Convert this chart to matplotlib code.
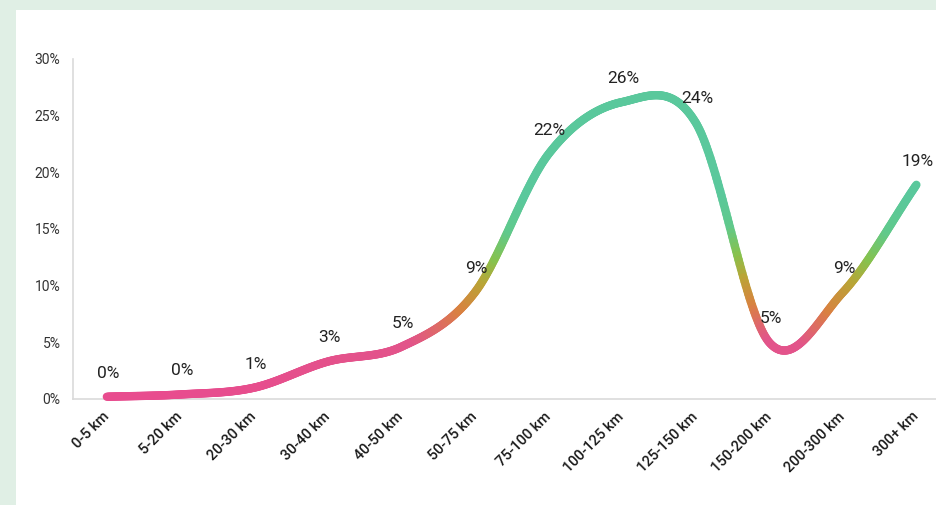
import numpy as np
import matplotlib.pyplot as plt
import matplotlib.transforms as mtransforms
from matplotlib.collections import LineCollection
from matplotlib.colors import LinearSegmentedColormap
from matplotlib.patches import Rectangle

plt.rcParams['font.family'] = ['Roboto', 'DejaVu Sans']

categories = ['0-5 km', '5-20 km', '20-30 km', '30-40 km', '40-50 km', '50-75 km',
              '75-100 km', '100-125 km', '125-150 km', '150-200 km', '200-300 km', '300+ km']
share = [0.2, 0.4, 1.0, 3.3, 4.6, 9.4, 21.6, 26.2, 24.4, 5.0, 9.4, 18.9]
y_ticks = [0, 5, 10, 15, 20, 25, 30]


def catmull_rom(y, steps=60):
    # cubic hermite through every point, tangents from neighbours
    y = np.asarray(y, dtype=float)
    n = len(y)
    m = np.empty(n)
    m[1:-1] = (y[2:] - y[:-2]) / 2
    m[0] = y[1] - y[0]
    m[-1] = y[-1] - y[-2]
    xs, ys = [], []
    t = np.linspace(0, 1, steps, endpoint=False)
    h00 = 2 * t**3 - 3 * t**2 + 1
    h10 = t**3 - 2 * t**2 + t
    h01 = -2 * t**3 + 3 * t**2
    h11 = t**3 - t**2
    for i in range(n - 1):
        xs.append(i + t)
        ys.append(h00 * y[i] + h10 * m[i] + h01 * y[i + 1] + h11 * m[i + 1])
    xs.append([n - 1])
    ys.append([y[-1]])
    return np.concatenate(xs), np.concatenate(ys)


fig = plt.figure(figsize=(9.37, 5.05), dpi=100)
fig.patch.set_facecolor('#e0efe5')
panel = Rectangle((16 / 937, 0), 1, 1 - 10 / 505, transform=fig.transFigure,
                  facecolor='white', edgecolor='none', zorder=-5)
fig.add_artist(panel)

ax = fig.add_axes([73 / 937, 106 / 505, 864 / 937, 340 / 505])
ax.set_facecolor('none')
ax.set_zorder(2)

xs, ys = catmull_rom(share)
pts = np.column_stack([xs, ys]).reshape(-1, 1, 2)
segs = np.concatenate([pts[:-1], pts[1:]], axis=1)

cmap = LinearSegmentedColormap.from_list('pink_green', [
    (0.0, '#e84c8e'), (5 / 30, '#e2548a'), (8 / 30, '#d98240'),
    (10.5 / 30, '#b9a536'), (12.5 / 30, '#86c24e'), (15 / 30, '#60c98c'),
    (18 / 30, '#5ac89c'), (1.0, '#5ac89c')])
mid = (ys[:-1] + ys[1:]) / 2
lc = LineCollection(segs, colors=cmap(mid / 30), linewidths=6, capstyle='round',
                    joinstyle='round', clip_on=False, zorder=3)
ax.add_collection(lc)

for i, v in enumerate(share):
    ax.annotate(f'{v:.0f}%', (i, v), xytext=(1, 17), textcoords='offset points',
                ha='center', va='center', fontsize=12.5, color='#222222', zorder=4)

ax.set_xlim(-0.46, 11.28)
ax.set_ylim(0, 30)
ax.set_yticks(y_ticks)
ax.set_yticklabels([f'{t}%' for t in y_ticks])
ax.set_xticks(range(len(categories)))
ax.set_xticklabels(categories, rotation=45, ha='right', va='center',
                   rotation_mode='anchor', fontsize=10.5, fontweight='medium', color='#1a1a1a')
shift = mtransforms.ScaledTranslation(8 / 100, 0, fig.dpi_scale_trans)
for lab in ax.get_xticklabels():
    lab.set_transform(lab.get_transform() + shift)
ax.tick_params(axis='both', length=0)
ax.tick_params(axis='y', pad=9, labelsize=10, labelcolor='#333333')
ax.tick_params(axis='x', pad=11)

for s in ['top', 'right']:
    ax.spines[s].set_visible(False)
for s in ['left', 'bottom']:
    ax.spines[s].set_color('#dadada')
    ax.spines[s].set_linewidth(1.2)

fig.savefig('out.png', dpi=100, facecolor=fig.get_facecolor())
